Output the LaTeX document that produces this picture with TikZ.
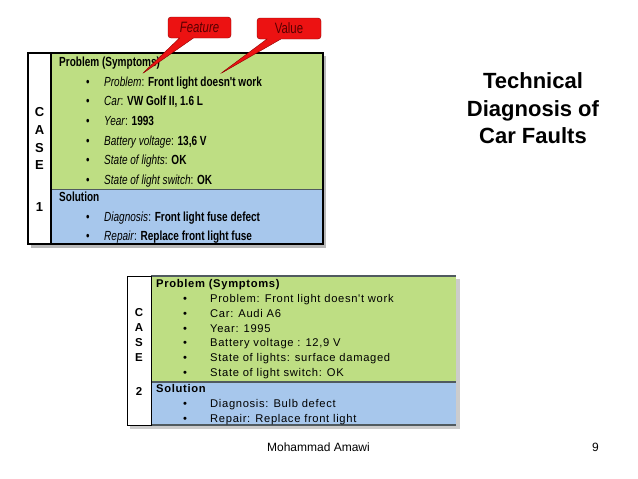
\documentclass[tikz,border=0pt]{standalone}
\usepackage{fontspec}
\setmainfont{Liberation Sans}
\newfontfamily\narrowfont[FakeStretch=0.76]{Liberation Sans}
\newfontfamily\spacedfont[LetterSpace=6]{Liberation Sans}
\usetikzlibrary{shapes.callouts,shadows}
\definecolor{symptomgreen}{RGB}{190,222,131}
\definecolor{solutionblue}{RGB}{167,199,236}
\definecolor{calloutred}{RGB}{236,18,18}
\definecolor{edgegray}{RGB}{80,90,95}

\begin{document}
\begin{tikzpicture}[x=1pt, y=-1pt,
  txt/.style={inner sep=0pt, anchor=base west},
  caseone/.style={txt, font=\narrowfont\fontsize{13.2}{14}\selectfont},
  casetwo/.style={txt, font=\spacedfont\fontsize{11.2}{12}\selectfont},
  caseletter/.style={inner sep=0pt, font=\fontsize{13}{13}\selectfont\bfseries},
  tag/.style={rectangle callout, rounded corners=3pt, fill=calloutred, draw=red!55!black,
    callout pointer width=14pt, minimum height=21pt, inner sep=0pt,
    text=red!35!black, font=\narrowfont\fontsize{15}{15}\selectfont}]
  \useasboundingbox (0,0) rectangle (638,479);

  % case 1
  \fill[gray!55] (31,56) rectangle (326,248);
  \fill[white] (28,53) rectangle (51,244);
  \fill[symptomgreen] (51,53) rectangle (323,189);
  \fill[solutionblue] (51,189) rectangle (323,244);
  \draw[edgegray] (51,189) -- (323,189);
  \draw[line width=1.3pt] (28,53) rectangle (323,244);
  \draw[line width=1.3pt] (51,53) -- (51,244);

  \foreach \letter/\ypos [count=\i] in {C/112, A/130, S/148, E/165, 1/207}
    \node[caseletter] (c1letter\i) at (39.5, \ypos) {\letter};

  \node[caseone] (c1head) at (59, 66.6) {\textbf{Problem (Symptoms)}};
  \foreach \feat/\val [count=\i] in {Problem/Front light doesn't work, Car/{VW Golf II, 1.6 L},
      Year/1993, Battery voltage/{13,6 V}, State of lights/OK, State of light switch/OK}
    \node[caseone] (c1item\i) at (86, {86.2+19.6*(\i-1)}) {\makebox[18pt][l]{\textbullet}\textit{\feat}: \textbf{\val}};
  \node[caseone] (c1sol) at (59, 201.6) {\textbf{Solution}};
  \node[caseone] (c1diag) at (86, 221.6) {\makebox[18pt][l]{\textbullet}\textit{Diagnosis}: \textbf{Front light fuse defect}};
  \node[caseone] (c1rep) at (86, 240.6) {\makebox[18pt][l]{\textbullet}\textit{Repair}: \textbf{Replace front light fuse}};

  % case 2
  \fill[gray!40] (130,279) rectangle (460,429);
  \fill[white] (127,276) rectangle (151,425);
  \fill[symptomgreen] (151,276) rectangle (456,382);
  \fill[solutionblue] (151,382) rectangle (456,425);
  \draw[edgegray, line width=1.2pt] (151,382) -- (456,382);
  \draw[edgegray, line width=1.5pt] (151,276) -- (456,276);
  \draw[edgegray, line width=1.5pt] (151,425) -- (456,425);
  \draw[line width=1pt] (127,276) rectangle (151,425);

  \foreach \letter/\ypos [count=\i] in {C/313, A/328, S/343, E/358, 2/391}
    \node[caseletter, font=\fontsize{11.5}{12}\selectfont\bfseries] (c2letter\i) at (139, \ypos) {\letter};

  \node[casetwo] (c2head) at (156, 287.2) {\textbf{Problem (Symptoms)}};
  \foreach \item [count=\i] in {Problem: Front light doesn't work, Car: Audi A6, Year: 1995,
      Battery voltage : {12,9 V}, State of lights: surface damaged, State of light switch: OK}
    \node[casetwo] (c2item\i) at (183, {302.2+14.9*(\i-1)}) {\makebox[27pt][l]{\textbullet}\item};
  \node[casetwo] (c2sol) at (156, 392.2) {\textbf{Solution}};
  \node[casetwo] (c2diag) at (183, 407.2) {\makebox[27pt][l]{\textbullet}Diagnosis: Bulb defect};
  \node[casetwo] (c2rep) at (183, 422.2) {\makebox[27pt][l]{\textbullet}Repair: Replace front light};

  % callouts
  \coordinate (feattip) at (142,74);
  \coordinate (valtip) at (220,74);
  \node[tag, minimum width=63pt, callout absolute pointer={(feattip)}] (feature) at (199.5,27.5) {\textit{Feature}};
  \node[tag, minimum width=64pt, callout absolute pointer={(valtip)}] (value) at (289,28.5) {Value};

  % title and footer
  \node[align=center, font=\fontsize{22}{27.5}\selectfont\bfseries] (title) at (533,108.5)
    {Technical\\Diagnosis of\\Car Faults};
  \node[font=\fontsize{12}{12}\selectfont] (author) at (318.5,447.5) {Mohammad Amawi};
  \node[font=\fontsize{12}{12}\selectfont] (page) at (595.5,447.5) {9};
\end{tikzpicture}
\end{document}
